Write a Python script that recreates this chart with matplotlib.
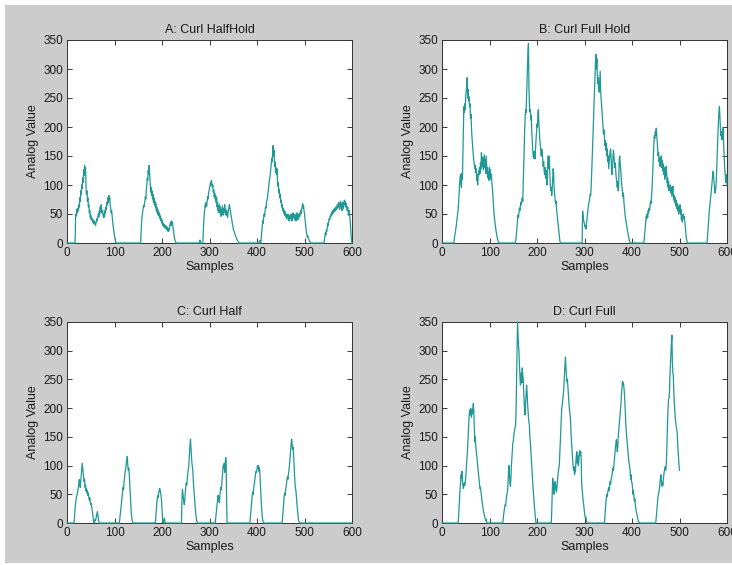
import matplotlib
matplotlib.use("Agg")
import matplotlib.pyplot as plt
from matplotlib.patches import Rectangle

plt.rcParams['font.family'] = ['Liberation Sans', 'DejaVu Sans']

titles = ["A: Curl HalfHold", "B: Curl Full Hold", "C: Curl Half", "D: Curl Full"]
x_ticks = [0, 100, 200, 300, 400, 500, 600]
y_ticks = [0, 50, 100, 150, 200, 250, 300, 350]

# Panel A samples (sample index, analog value)
a_pts = [(0,0),(17,0),(18,42),(19,50),(20,47),(21,58),(22,52),(23,60),(24,56),(25,66),(26,62),(27,78),(28,72),(29,90),(30,84),(31,100),(32,94),(33,112),(34,104),(35,126),(36,116),(37,134),(38,120),(39,130),(40,98),(41,84),(42,90),(43,72),(44,78),(45,62),(46,66),(47,52),(48,56),(49,44),(50,48),(51,40),(52,44),(54,36),(55,40),(56,33),(58,38),(60,30),(61,34),(62,37),(63,42),(64,39),(65,46),(66,50),(67,45),(68,55),(69,50),(70,62),(71,54),(72,66),(73,58),(74,52),(75,56),(76,47),(77,44),(78,50),(79,45),(80,56),(81,52),(82,62),(83,58),(84,70),(85,66),(86,78),(87,70),(88,82),(89,74),(90,78),(91,64),(92,60),(93,52),(94,56),(95,46),(96,38),(97,30),(98,24),(99,18),(100,12),(101,8),(102,3),(103,0),
    (155,0),(156,20),(157,35),(158,45),(159,52),(160,58),(161,64),(162,62),(163,68),(164,72),(165,80),(166,76),(167,92),(168,100),(169,112),(170,108),(171,125),(172,118),(173,134),(174,120),(175,105),(176,88),(177,96),(178,82),(179,90),(180,76),(181,84),(182,70),(183,78),(184,66),(185,72),(186,62),(187,68),(188,56),(189,62),(190,52),(191,58),(192,48),(193,54),(194,46),(195,50),(196,42),(197,46),(198,38),(199,42),(200,34),(201,38),(202,30),(203,33),(204,28),(205,32),(206,26),(208,30),(209,24),(210,28),(211,22),(212,26),(213,20),(214,24),(215,22),(216,28),(217,32),(218,36),(219,30),(220,38),(221,34),(222,36),(223,28),(224,22),(225,16),(226,10),(227,6),(228,3),(230,0),
    (279,0),(280,5),(281,0),(286,0),(287,22),(288,38),(289,50),(290,58),(291,66),(292,62),(293,70),(294,64),(295,72),(296,80),(297,76),(298,86),(299,90),(300,95),(301,98),(302,104),(303,100),(304,108),(305,102),(306,96),(307,100),(308,88),(309,92),(310,80),(311,86),(312,76),(313,82),(314,70),(315,78),(316,62),(317,70),(318,56),(319,64),(320,52),(321,66),(322,54),(323,62),(324,46),(325,58),(326,50),(327,64),(328,56),(329,48),(330,60),(331,52),(332,66),(333,54),(334,58),(335,48),(336,56),(337,50),(338,44),(339,52),(340,58),(341,62),(342,66),(343,60),(344,56),(345,50),(346,44),(347,40),(348,34),(349,30),(350,24),(352,20),(354,14),(356,10),(358,6),(360,3),(362,0),
    (405,0),(406,4),(407,0),(408,0),(409,10),(410,22),(411,30),(412,38),(413,34),(414,44),(415,50),(416,46),(417,56),(418,62),(419,60),(420,70),(421,74),(422,78),(423,86),(424,92),(425,100),(426,108),(427,112),(428,120),(429,128),(430,136),(431,146),(432,140),(433,156),(434,168),(435,150),(436,160),(437,132),(438,140),(439,122),(440,130),(441,118),(442,128),(443,110),(444,98),(445,104),(446,86),(447,92),(448,78),(449,84),(450,70),(451,74),(452,62),(453,66),(454,56),(455,60),(456,52),(457,56),(458,48),(459,54),(460,46),(461,50),(462,42),(463,48),(464,44),(465,50),(466,40),(467,46),(468,38),(469,44),(470,48),(471,42),(472,50),(473,44),(474,38),(475,46),(476,52),(477,44),(478,48),(479,40),(480,50),(481,44),(482,38),(483,46),(484,52),(485,46),(486,40),(487,48),(488,44),(489,50),(490,46),(491,52),(492,56),(493,50),(494,58),(495,62),(496,68),(497,60),(498,64),(499,56),(500,50),(501,42),(502,34),(503,26),(504,20),(505,14),(506,10),(507,12),(508,8),(509,6),(510,4),(512,2),(513,0),
    (541,0),(542,6),(543,12),(544,18),(545,14),(546,22),(547,20),(548,28),(549,34),(550,30),(551,38),(552,42),(553,40),(554,46),(555,44),(556,50),(557,48),(558,54),(559,50),(560,56),(561,52),(562,58),(563,54),(564,60),(565,56),(566,62),(567,58),(568,64),(569,60),(570,66),(571,62),(572,70),(573,64),(574,58),(575,66),(576,72),(577,62),(578,68),(579,56),(580,64),(581,70),(582,60),(583,66),(584,74),(585,66),(586,72),(587,62),(588,68),(589,60),(590,56),(591,62),(592,54),(593,48),(594,56),(595,50),(596,40),(597,28),(598,14),(599,4),(600,0)]

# Panel B samples
b_pts = [(0,0),(25,0),(26,8),(28,18),(30,30),(32,44),(34,58),(35,70),(36,84),(37,100),(38,112),(39,118),(40,104),(41,96),(42,120),(43,110),(44,150),(45,190),(46,235),(47,225),(48,240),(49,230),(50,255),(51,262),(52,272),(53,285),(54,250),(55,265),(56,245),(57,252),(58,235),(59,240),(60,215),(61,222),(62,200),(63,184),(64,172),(65,160),(66,150),(67,142),(68,136),(69,128),(70,134),(71,122),(72,128),(73,108),(74,118),(75,100),(76,112),(77,124),(78,118),(79,130),(80,120),(81,138),(82,128),(83,156),(84,140),(85,132),(86,148),(87,126),(88,140),(89,152),(90,130),(91,144),(92,120),(93,150),(94,135),(95,120),(96,130),(97,112),(98,122),(99,108),(100,130),(101,118),(102,126),(103,110),(104,118),(105,104),(106,96),(107,82),(108,70),(109,58),(110,46),(112,32),(114,20),(116,10),(118,4),(120,0),
    (155,0),(156,10),(157,22),(158,32),(159,40),(160,48),(161,44),(162,52),(163,60),(164,56),(165,64),(166,70),(167,66),(168,74),(169,78),(170,72),(171,100),(172,130),(173,160),(174,195),(175,215),(176,230),(177,225),(178,250),(179,280),(180,300),(181,330),(182,344),(183,270),(184,240),(185,226),(186,230),(187,212),(188,220),(189,192),(190,176),(191,160),(192,150),(193,146),(194,158),(195,150),(196,145),(197,165),(198,178),(199,190),(200,205),(201,200),(202,225),(203,230),(204,205),(205,190),(206,178),(207,168),(208,160),(209,150),(210,162),(211,155),(212,145),(213,132),(214,140),(215,126),(216,118),(217,130),(218,112),(219,125),(220,110),(221,100),(222,120),(223,150),(224,140),(225,128),(226,150),(227,118),(228,100),(229,90),(230,96),(231,82),(232,94),(233,110),(234,128),(235,120),(236,96),(237,84),(238,76),(239,68),(240,72),(241,60),(242,52),(243,44),(244,36),(245,28),(246,20),(247,12),(248,5),(249,0),
    (295,0),(296,55),(297,48),(298,40),(299,36),(300,32),(301,28),(302,30),(303,24),(304,32),(305,40),(306,48),(307,56),(308,62),(309,68),(310,72),(311,78),(312,84),(313,82),(314,96),(315,118),(316,140),(317,165),(318,190),(319,215),(320,245),(321,270),(322,290),(323,310),(324,325),(325,300),(326,318),(327,290),(328,275),(329,285),(330,270),(331,260),(332,280),(333,296),(334,262),(335,250),(336,240),(337,228),(338,215),(339,200),(340,188),(341,195),(342,180),(343,168),(344,176),(345,160),(346,172),(347,150),(348,162),(349,140),(350,150),(351,128),(352,140),(353,150),(354,158),(355,162),(356,145),(357,130),(358,118),(359,130),(360,150),(361,160),(362,150),(363,140),(364,130),(365,138),(366,120),(367,112),(368,104),(369,96),(370,106),(371,90),(372,100),(373,142),(374,150),(375,140),(376,132),(377,118),(378,104),(379,96),(380,88),(381,80),(382,86),(383,70),(384,60),(385,52),(386,44),(388,34),(390,24),(392,14),(394,6),(396,0),
    (425,0),(426,10),(427,18),(428,28),(429,36),(430,46),(431,42),(432,50),(433,44),(434,56),(435,52),(436,60),(437,56),(438,64),(439,72),(440,68),(441,78),(442,90),(443,110),(444,130),(445,150),(446,170),(447,185),(448,180),(449,192),(450,186),(451,198),(452,188),(453,176),(454,162),(455,150),(456,156),(457,140),(458,146),(459,132),(460,148),(461,138),(462,150),(463,130),(464,142),(465,124),(466,136),(467,118),(468,130),(469,110),(470,126),(471,116),(472,132),(473,120),(474,104),(475,112),(476,96),(477,106),(478,90),(479,98),(480,92),(481,100),(482,86),(483,96),(484,80),(485,90),(486,98),(487,84),(488,74),(489,82),(490,70),(491,78),(492,64),(493,74),(494,60),(495,68),(496,56),(497,64),(498,50),(499,60),(500,54),(501,66),(502,50),(503,58),(504,40),(505,48),(506,36),(507,44),(508,50),(509,42),(510,46),(511,38),(512,30),(513,20),(514,12),(515,6),(516,2),(517,0),
    (558,0),(559,12),(560,24),(561,36),(562,48),(563,58),(564,66),(565,74),(566,82),(567,90),(568,100),(569,110),(570,118),(571,124),(572,112),(573,102),(574,94),(575,86),(576,92),(577,100),(578,120),(579,145),(580,170),(581,190),(582,210),(583,225),(584,235),(585,220),(586,200),(587,185),(588,192),(589,178),(590,186),(591,190),(592,198),(593,170),(594,150),(595,130),(596,120),(597,110),(598,104),(599,118),(600,100)]

# Panel C samples
c_pts = [(0,0),(15,0),(16,14),(17,26),(18,34),(19,40),(20,46),(21,48),(22,52),(23,58),(24,62),(25,70),(26,76),(27,68),(28,62),(29,72),(30,80),(31,92),(32,104),(33,96),(34,88),(35,80),(36,72),(37,76),(38,62),(39,66),(40,56),(41,60),(42,52),(43,56),(44,48),(45,52),(46,44),(47,40),(48,44),(49,36),(50,32),(51,34),(52,28),(53,22),(54,16),(55,10),(56,4),(57,0),(58,2),(59,6),(60,4),(61,8),(62,12),(63,16),(64,20),(65,14),(66,8),(67,2),(68,0),
    (110,0),(111,6),(112,14),(113,22),(114,30),(115,38),(116,46),(117,54),(118,62),(119,58),(120,70),(121,78),(122,86),(123,92),(124,98),(125,106),(126,110),(127,116),(128,100),(129,92),(130,96),(131,86),(132,70),(133,52),(134,36),(135,22),(136,12),(137,6),(138,2),(139,0),
    (186,0),(187,10),(188,22),(189,34),(190,42),(191,48),(192,44),(193,52),(194,56),(195,60),(196,58),(197,52),(198,48),(199,40),(200,26),(201,10),(202,2),(203,0),(204,4),(205,8),(206,3),(207,0),
    (241,0),(242,40),(243,58),(244,52),(245,44),(246,36),(247,32),(248,40),(249,54),(250,62),(251,70),(252,66),(253,76),(254,84),(255,92),(256,96),(257,110),(258,124),(259,136),(260,146),(261,130),(262,118),(263,104),(264,98),(265,90),(266,72),(267,60),(268,48),(269,36),(270,26),(271,18),(272,10),(273,4),(275,0),
    (312,0),(313,8),(314,16),(315,24),(316,32),(317,40),(318,48),(319,38),(320,44),(321,36),(322,50),(323,56),(324,62),(325,58),(326,70),(327,82),(328,92),(329,100),(330,96),(331,104),(332,88),(333,100),(334,114),(335,108),(336,40),(337,0),
    (385,0),(386,10),(387,20),(388,30),(389,40),(390,48),(391,54),(392,50),(393,60),(394,66),(395,72),(396,80),(397,86),(398,90),(399,88),(400,94),(401,100),(402,96),(403,100),(404,90),(405,96),(406,88),(407,70),(408,52),(409,36),(410,22),(411,12),(412,5),(414,0),
    (453,0),(454,10),(455,22),(456,34),(457,44),(458,52),(459,48),(460,56),(461,62),(462,68),(463,74),(464,80),(465,76),(466,84),(467,90),(468,98),(469,106),(470,118),(471,130),(472,140),(473,146),(474,136),(475,128),(476,132),(477,120),(478,100),(479,84),(480,70),(481,60),(482,56),(483,44),(484,34),(485,24),(486,16),(487,8),(488,3),(490,0),(600,0)]

# Panel D samples
d_pts = [(0,0),(34,0),(35,12),(36,28),(37,44),(38,58),(39,70),(40,84),(41,78),(42,90),(43,72),(44,66),(45,60),(46,64),(47,70),(48,66),(49,72),(50,80),(51,92),(52,104),(53,118),(54,132),(55,150),(56,168),(57,185),(58,196),(59,188),(60,200),(61,192),(62,184),(63,198),(64,190),(65,200),(66,208),(67,194),(68,170),(69,141),(70,150),(71,134),(72,126),(73,118),(74,110),(75,100),(76,92),(77,84),(78,76),(79,68),(80,60),(81,62),(82,54),(83,48),(84,40),(85,34),(86,28),(87,22),(88,18),(89,14),(90,10),(91,8),(92,4),(93,6),(94,2),(95,0),
    (128,0),(129,8),(130,16),(131,22),(132,28),(133,32),(134,30),(135,40),(136,46),(137,52),(138,56),(139,70),(140,90),(141,100),(142,84),(143,70),(144,64),(145,76),(146,98),(147,112),(148,126),(149,138),(150,142),(151,150),(152,158),(153,162),(154,168),(155,170),(156,200),(157,250),(158,300),(159,350),(160,330),(161,310),(162,300),(163,276),(164,258),(165,240),(166,250),(167,262),(168,244),(169,270),(170,258),(171,250),(172,228),(173,210),(174,194),(175,188),(176,210),(177,222),(178,240),(179,230),(180,210),(181,196),(182,184),(183,176),(184,170),(185,150),(186,140),(187,126),(188,112),(189,100),(190,86),(191,72),(192,58),(193,46),(194,34),(195,24),(196,14),(197,6),(198,0),
    (230,0),(231,20),(232,48),(233,78),(234,70),(235,60),(236,50),(237,64),(238,72),(239,58),(240,66),(241,54),(242,62),(243,74),(244,82),(245,90),(246,96),(247,102),(248,120),(249,140),(250,160),(251,180),(252,198),(253,205),(254,212),(255,220),(256,230),(257,246),(258,262),(259,276),(260,289),(261,270),(262,258),(263,246),(264,250),(265,238),(266,226),(267,214),(268,200),(269,194),(270,186),(271,170),(272,150),(273,136),(274,124),(275,112),(276,100),(277,92),(278,98),(279,84),(280,96),(281,89),(282,110),(283,118),(284,124),(285,104),(286,117),(287,100),(288,108),(289,120),(290,126),(291,118),(292,124),(293,112),(294,70),(295,58),(296,50),(297,40),(298,34),(299,26),(300,18),(301,12),(302,8),(303,10),(304,4),(305,2),(306,0),
    (342,0),(343,12),(344,24),(345,36),(346,44),(347,50),(348,46),(349,54),(350,58),(351,62),(352,56),(353,66),(354,72),(355,68),(356,76),(357,80),(358,84),(359,90),(360,96),(361,92),(362,102),(363,110),(364,120),(365,130),(366,138),(367,145),(368,140),(369,124),(370,132),(371,150),(372,160),(373,170),(374,182),(375,190),(376,198),(377,210),(378,226),(379,236),(380,246),(381,240),(382,244),(383,236),(384,226),(385,210),(386,190),(387,172),(388,158),(389,148),(390,136),(391,126),(392,118),(393,110),(394,104),(395,98),(396,92),(397,76),(398,84),(399,72),(400,70),(401,62),(402,50),(403,56),(404,46),(405,38),(406,42),(407,32),(408,26),(409,20),(410,16),(411,12),(412,8),(413,5),(414,3),(416,0),
    (450,0),(451,10),(452,20),(453,30),(454,40),(455,48),(456,50),(457,56),(458,62),(459,72),(460,80),(461,84),(462,72),(463,64),(464,70),(465,66),(466,76),(467,84),(468,90),(469,94),(470,98),(471,92),(472,100),(473,120),(474,150),(475,180),(476,200),(477,215),(478,218),(479,230),(480,260),(481,278),(482,300),(483,315),(484,327),(485,280),(486,262),(487,257),(488,230),(489,210),(490,196),(491,184),(492,176),(493,168),(494,164),(495,158),(496,140),(497,126),(498,112),(499,100),(500,92)]

series = [a_pts, b_pts, c_pts, d_pts]

W, H = 732, 565
fig = plt.figure(figsize=(W / 100, H / 100), dpi=100)
fig.patch.set_facecolor('white')
fig.patches.append(Rectangle((5 / W, 2 / H), 1, (H - 7) / H, transform=fig.transFigure,
                             facecolor='#cccccc', edgecolor='none', zorder=-10))

# axes boxes in pixel coordinates: left, top, width, height
boxes = [(67, 40, 285, 203), (442, 40, 285, 203), (67, 322, 285, 201), (442, 322, 285, 201)]
line_color = '#1e9995'
text_color = '#1a1a1a'

for box, pts, title in zip(boxes, series, titles):
    l, t, w, h = box
    ax = fig.add_axes([l / W, 1 - (t + h) / H, w / W, h / H])
    ax.set_facecolor('white')
    xs = [p[0] for p in pts]
    ys = [p[1] for p in pts]
    ax.plot(xs, ys, color=line_color, lw=0.9, clip_on=False, zorder=3)
    ax.set_xlim(0, 600)
    ax.set_ylim(0, 350)
    ax.set_xticks(x_ticks)
    ax.set_yticks(y_ticks)
    ax.tick_params(direction='in', length=3.5, width=0.6, top=True, right=True,
                   labelsize=8.5, colors=text_color, pad=3)
    for sp in ax.spines.values():
        sp.set_linewidth(0.7)
        sp.set_color('#333333')
    ax.set_title(title, fontsize=9, color=text_color, pad=5)
    ax.set_xlabel('Samples', fontsize=9, color=text_color, labelpad=1)
    ax.set_ylabel('Analog Value', fontsize=9, color=text_color, labelpad=3)

fig.savefig('out.png', dpi=100, facecolor=fig.get_facecolor())
